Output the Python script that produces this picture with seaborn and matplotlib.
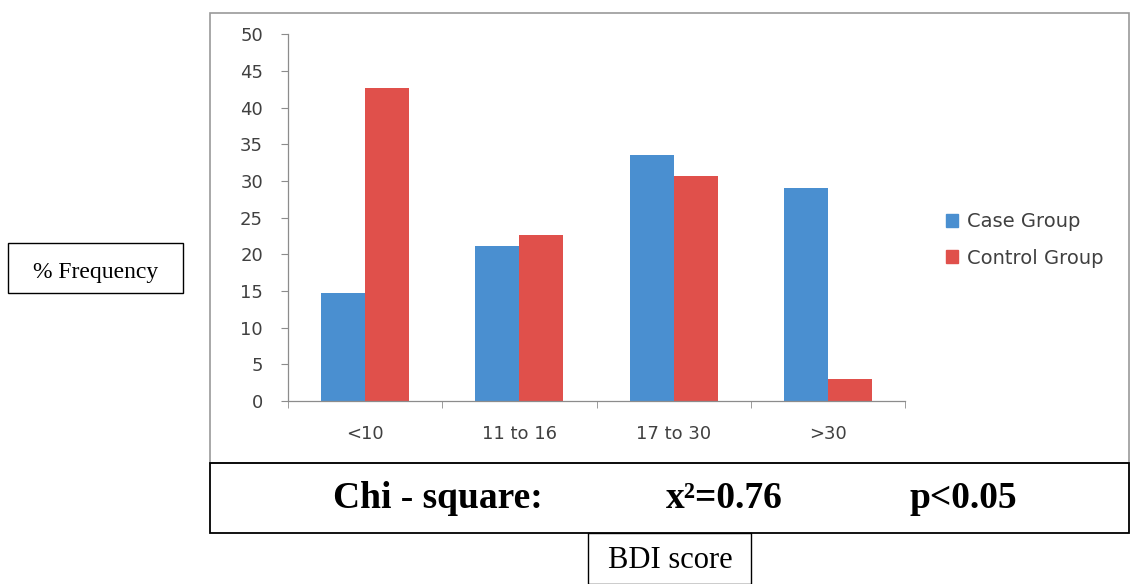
import pandas as pd
import seaborn as sns
import matplotlib.pyplot as plt
from matplotlib.patches import Rectangle
from matplotlib.ticker import FixedLocator

categories = ['<10', '11 to 16', '17 to 30', '>30']
case_group = [14.7, 21.2, 33.6, 29.1]
control_group = [42.7, 22.7, 30.7, 3.0]
groups = ['Case Group', 'Control Group']
colors = ['#4a8fd0', '#e0504b']

df = pd.DataFrame({
    'BDI': categories * 2,
    'value': case_group + control_group,
    'group': [groups[0]] * 4 + [groups[1]] * 4,
})

sns.set_style('white')
plt.rcParams['font.family'] = ['DejaVu Sans']

fig = plt.figure(figsize=(11.3, 5.84), dpi=100)
W, H = 1130, 584

def fx(px):
    return px / W

def fy(py):
    return 1 - py / H

# outer chart frame (grey), the chi-square box and the two label boxes (black)
fig.patches.append(Rectangle((fx(210), fy(463)), fx(1129) - fx(210), fy(13) - fy(463),
                             transform=fig.transFigure, fill=False, ec='#9a9a9a', lw=1.2))
fig.patches.append(Rectangle((fx(210), fy(533)), fx(1129) - fx(210), fy(463) - fy(533),
                             transform=fig.transFigure, fill=False, ec='black', lw=1.3))
fig.patches.append(Rectangle((fx(588), fy(584)), fx(751) - fx(588), fy(533) - fy(584),
                             transform=fig.transFigure, fill=False, ec='black', lw=1.0))
fig.patches.append(Rectangle((fx(8), fy(293)), fx(183) - fx(8), fy(243) - fy(293),
                             transform=fig.transFigure, fill=False, ec='black', lw=1.0))

ax = fig.add_axes([fx(288), fy(401), fx(905) - fx(288), fy(34.3) - fy(401)])
sns.barplot(data=df, x='BDI', y='value', hue='group', palette=colors,
            width=0.57, gap=0, saturation=1, linewidth=0, ax=ax, legend=False)

ax.set_xlim(-0.5, 3.5)
ax.set_ylim(0, 50)
ax.set_yticks(range(0, 51, 5))
ax.set_xlabel('')
ax.set_ylabel('')
for s in ['top', 'right']:
    ax.spines[s].set_visible(False)
for s in ['left', 'bottom']:
    ax.spines[s].set_color('#8c8c8c')
    ax.spines[s].set_linewidth(0.9)
ax.tick_params(axis='y', left=True, length=5, color='#8c8c8c', labelsize=13,
               labelcolor='#404040', pad=13)
ax.tick_params(axis='x', which='major', length=0, labelsize=13, labelcolor='#404040', pad=17)
ax.xaxis.set_minor_locator(FixedLocator([-0.5, 0.5, 1.5, 2.5, 3.5]))
ax.tick_params(axis='x', which='minor', bottom=True, length=5, color='#8c8c8c')

handles = [Rectangle((0, 0), 1, 1, color=c) for c in colors]
fig.legend(handles, groups, loc='center left', bbox_to_anchor=(fx(928), fy(240)),
           frameon=False, fontsize=14, labelcolor='#404040', handlelength=0.65,
           handleheight=0.65, handletextpad=0.45, labelspacing=0.9)

serif = ['Liberation Serif', 'DejaVu Serif']
fig.text(fx(438), fy(508), 'Chi - square:', family=serif, fontsize=27, weight='bold',
         ha='center', va='baseline', color='black')
fig.text(fx(724), fy(508), 'x²=0.76', family=serif, fontsize=27, weight='bold',
         ha='center', va='baseline', color='black')
fig.text(fx(963), fy(508), 'p<0.05', family=serif, fontsize=27, weight='bold',
         ha='center', va='baseline', color='black')
fig.text(fx(670), fy(568), 'BDI score', family=serif, fontsize=22, ha='center',
         va='baseline', color='black')
fig.text(fx(96), fy(278), '% Frequency', family=serif, fontsize=17, ha='center',
         va='baseline', color='black')

fig.savefig('out.png', dpi=100)
